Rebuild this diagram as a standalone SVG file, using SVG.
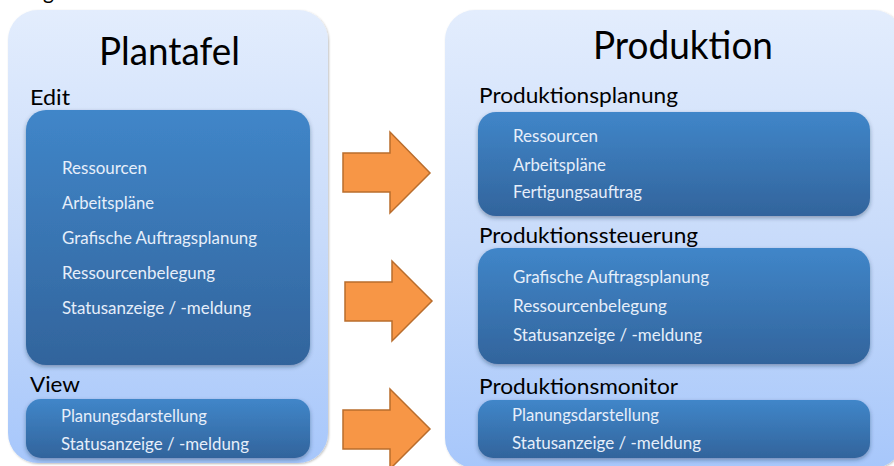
<svg xmlns="http://www.w3.org/2000/svg" width="894" height="466" viewBox="0 0 894 466">
<defs>
<linearGradient id="panelGrad" x1="0" y1="0" x2="0" y2="1">
<stop offset="0" stop-color="#e3edfd"/>
<stop offset="0.5" stop-color="#c8dbfa"/>
<stop offset="1" stop-color="#a7c7fb"/>
</linearGradient>
<linearGradient id="boxGrad" x1="0" y1="0" x2="0" y2="1">
<stop offset="0" stop-color="#4086c9"/>
<stop offset="1" stop-color="#32649c"/>
</linearGradient>
<filter id="boxShadow" x="-5%" y="-10%" width="110%" height="125%">
<feDropShadow dx="0" dy="2" stdDeviation="2" flood-color="#1a2f4a" flood-opacity="0.4"/>
</filter>
<filter id="panelShadow" x="-5%" y="-5%" width="110%" height="110%">
<feDropShadow dx="1" dy="1" stdDeviation="1" flood-color="#000" flood-opacity="0.25"/>
</filter>
</defs>
<style>
.panel{fill:url(#panelGrad);filter:url(#panelShadow);}
.box{fill:url(#boxGrad);filter:url(#boxShadow);}
.title{font-family:Lato,"Open Sans",sans-serif;font-size:39px;fill:#000;}
.head{font-family:Lato,"Open Sans",sans-serif;font-size:21px;fill:#000;}
.item{font-family:Lato,"Open Sans",sans-serif;font-size:16.5px;fill:#e6eefa;}
.arrow{fill:#f79646;stroke:#b96d2d;stroke-width:1.5;stroke-linejoin:miter;}
</style>
<rect width="894" height="466" fill="#ffffff"/>
<text class="head" x="43" y="-1">g</text>

<g id="plantafel">
<rect class="panel" x="8" y="10" width="320" height="453" rx="30" ry="30"/>
<text class="title" x="99" y="65" textLength="141" lengthAdjust="spacingAndGlyphs">Plantafel</text>
</g>

<g id="edit">
<text class="head" x="30" y="105" textLength="40" lengthAdjust="spacingAndGlyphs">Edit</text>
<rect class="box" x="26" y="110" width="284" height="255" rx="20" ry="20"/>
<text class="item" x="62" y="174" textLength="85" lengthAdjust="spacingAndGlyphs">Ressourcen</text>
<text class="item" x="62" y="209" textLength="92" lengthAdjust="spacingAndGlyphs">Arbeitspläne</text>
<text class="item" x="62" y="244" textLength="195" lengthAdjust="spacingAndGlyphs">Grafische Auftragsplanung</text>
<text class="item" x="62" y="279" textLength="153" lengthAdjust="spacingAndGlyphs">Ressourcenbelegung</text>
<text class="item" x="62" y="314" textLength="189" lengthAdjust="spacingAndGlyphs">Statusanzeige / -meldung</text>
</g>

<g id="view">
<text class="head" x="30" y="392" textLength="50" lengthAdjust="spacingAndGlyphs">View</text>
<rect class="box" x="26" y="399" width="284" height="59" rx="15" ry="15"/>
<text class="item" x="61" y="422" textLength="146" lengthAdjust="spacingAndGlyphs">Planungsdarstellung</text>
<text class="item" x="61" y="450" textLength="188" lengthAdjust="spacingAndGlyphs">Statusanzeige / -meldung</text>
</g>

<g id="produktion">
<rect class="panel" x="445" y="10" width="458" height="458" rx="30" ry="30"/>
<text class="title" x="593" y="59" textLength="180" lengthAdjust="spacingAndGlyphs">Produktion</text>
</g>

<g id="produktionsplanung">
<text class="head" x="479" y="103" textLength="199" lengthAdjust="spacingAndGlyphs">Produktionsplanung</text>
<rect class="box" x="478" y="112" width="392" height="104" rx="18" ry="18"/>
<text class="item" x="513" y="142" textLength="85" lengthAdjust="spacingAndGlyphs">Ressourcen</text>
<text class="item" x="513" y="171" textLength="93" lengthAdjust="spacingAndGlyphs">Arbeitspläne</text>
<text class="item" x="513" y="198" textLength="129" lengthAdjust="spacingAndGlyphs">Fertigungsauftrag</text>
</g>

<g id="produktionssteuerung">
<text class="head" x="479" y="243" textLength="219" lengthAdjust="spacingAndGlyphs">Produktionssteuerung</text>
<rect class="box" x="478" y="248" width="392" height="116" rx="20" ry="20"/>
<text class="item" x="513" y="283" textLength="196" lengthAdjust="spacingAndGlyphs">Grafische Auftragsplanung</text>
<text class="item" x="513" y="312" textLength="154" lengthAdjust="spacingAndGlyphs">Ressourcenbelegung</text>
<text class="item" x="513" y="341" textLength="189" lengthAdjust="spacingAndGlyphs">Statusanzeige / -meldung</text>
</g>

<g id="produktionsmonitor">
<text class="head" x="479" y="394" textLength="199" lengthAdjust="spacingAndGlyphs">Produktionsmonitor</text>
<rect class="box" x="478" y="400" width="392" height="58" rx="15" ry="15"/>
<text class="item" x="512" y="421" textLength="147" lengthAdjust="spacingAndGlyphs">Planungsdarstellung</text>
<text class="item" x="512" y="449" textLength="189" lengthAdjust="spacingAndGlyphs">Statusanzeige / -meldung</text>
</g>

<g id="connectors">
<polygon class="arrow" points="343,153 390,153 390,132 430,173 390,213 390,192 343,192"/>
<polygon class="arrow" points="345,282 392,282 392,261 432,301 392,341 392,321 345,321"/>
<polygon class="arrow" points="343,410 390,410 390,389 430,429 390,469 390,449 343,449"/>
</g>
</svg>
